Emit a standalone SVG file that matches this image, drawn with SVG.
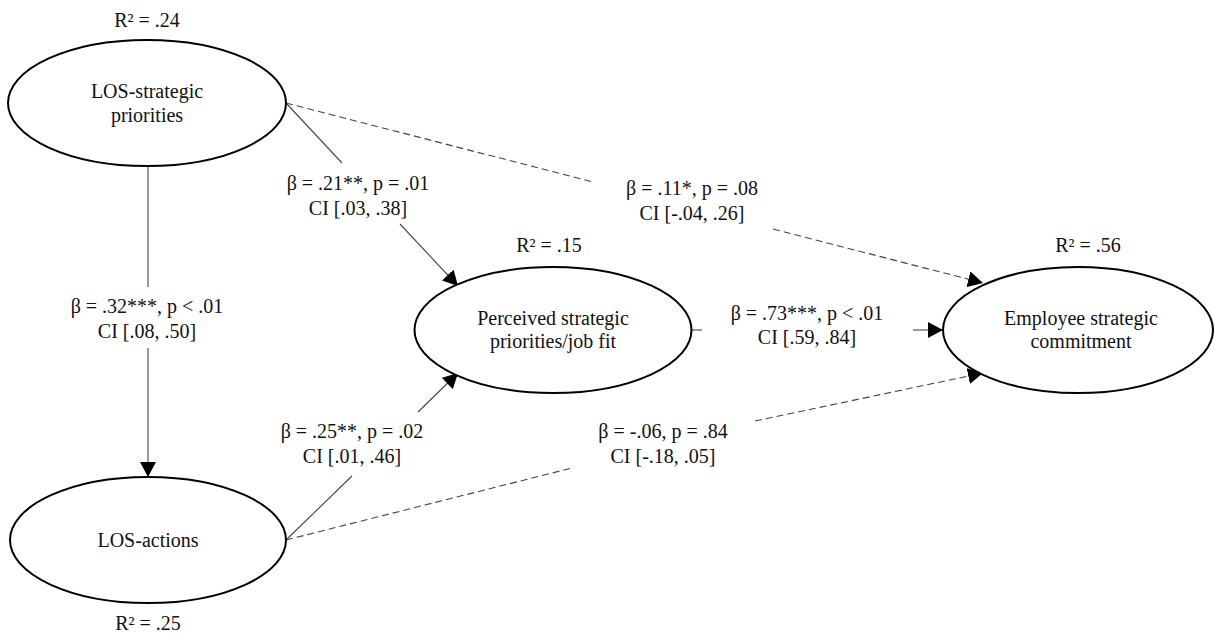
<svg xmlns="http://www.w3.org/2000/svg" width="1215" height="635" viewBox="0 0 1215 635">
  <style>
    text { font-family: "Liberation Serif", "Times New Roman", serif; font-size: 20px; fill: #111; text-anchor: middle; }
    .node { fill: #fff; stroke: #000; stroke-width: 2; }
    .path { fill: none; stroke: #444; stroke-width: 1.1; }
    .dash { stroke-dasharray: 7 4; }
  </style>
  <defs>
    <marker id="arrow" markerUnits="userSpaceOnUse" markerWidth="16" markerHeight="16" viewBox="0 0 16 16" refX="15" refY="8" orient="auto">
      <path d="M0,0 L15,8 L0,16 Z" fill="#000"/>
    </marker>
  </defs>

  <!-- connectors, each split around its coefficient label -->
  <g id="connectors">
    <!-- LOS-strategic priorities -> LOS-actions -->
    <line class="path" x1="148" y1="167" x2="148" y2="287"/>
    <line class="path" x1="148" y1="348" x2="148" y2="477" marker-end="url(#arrow)"/>
    <!-- LOS-strategic priorities -> perceived fit -->
    <line class="path" x1="286" y1="103" x2="342" y2="163"/>
    <line class="path" x1="400" y1="224" x2="458" y2="286" marker-end="url(#arrow)"/>
    <!-- LOS-strategic priorities -> commitment (dashed) -->
    <line class="path dash" x1="286" y1="103" x2="593" y2="182"/>
    <line class="path dash" x1="773" y1="229" x2="983" y2="283" marker-end="url(#arrow)"/>
    <!-- LOS-actions -> perceived fit -->
    <line class="path" x1="286" y1="540" x2="352" y2="476"/>
    <line class="path" x1="418" y1="412" x2="458" y2="373" marker-end="url(#arrow)"/>
    <!-- LOS-actions -> commitment (dashed) -->
    <line class="path dash" x1="286" y1="540" x2="572" y2="468"/>
    <line class="path dash" x1="755" y1="421" x2="983" y2="373" marker-end="url(#arrow)"/>
    <!-- perceived fit -> commitment -->
    <line class="path" x1="692" y1="330" x2="702" y2="330"/>
    <line class="path" x1="913" y1="330" x2="943" y2="330" marker-end="url(#arrow)"/>
  </g>

  <!-- coefficient labels -->
  <g id="labels">
    <text x="147" y="313">β = .32***, p &lt; .01</text>
    <text x="147" y="338">CI [.08, .50]</text>
    <text x="358" y="190">β = .21**, p = .01</text>
    <text x="358" y="215">CI [.03, .38]</text>
    <text x="692" y="195">β = .11*, p = .08</text>
    <text x="692" y="220">CI [-.04, .26]</text>
    <text x="807" y="320">β = .73***, p &lt; .01</text>
    <text x="807" y="344">CI [.59, .84]</text>
    <text x="352" y="438">β = .25**, p = .02</text>
    <text x="352" y="463">CI [.01, .46]</text>
    <text x="663" y="438">β = -.06, p = .84</text>
    <text x="663" y="463">CI [-.18, .05]</text>
  </g>

  <g id="los-strategic">
    <text x="147" y="27">R² = .24</text>
    <ellipse class="node" cx="147" cy="103" rx="139" ry="63"/>
    <text x="147" y="98">LOS-strategic</text>
    <text x="147" y="122">priorities</text>
  </g>

  <g id="los-actions">
    <ellipse class="node" cx="148" cy="540" rx="138" ry="63"/>
    <text x="148" y="547">LOS-actions</text>
    <text x="148" y="630">R² = .25</text>
  </g>

  <g id="perceived-fit">
    <text x="549" y="252">R² = .15</text>
    <ellipse class="node" cx="553" cy="330" rx="138.5" ry="63"/>
    <text x="553" y="325">Perceived strategic</text>
    <text x="553" y="348">priorities/job fit</text>
  </g>

  <g id="commitment">
    <text x="1088" y="252">R² = .56</text>
    <ellipse class="node" cx="1078" cy="330" rx="135" ry="63"/>
    <text x="1081" y="325">Employee strategic</text>
    <text x="1081" y="348">commitment</text>
  </g>
</svg>
